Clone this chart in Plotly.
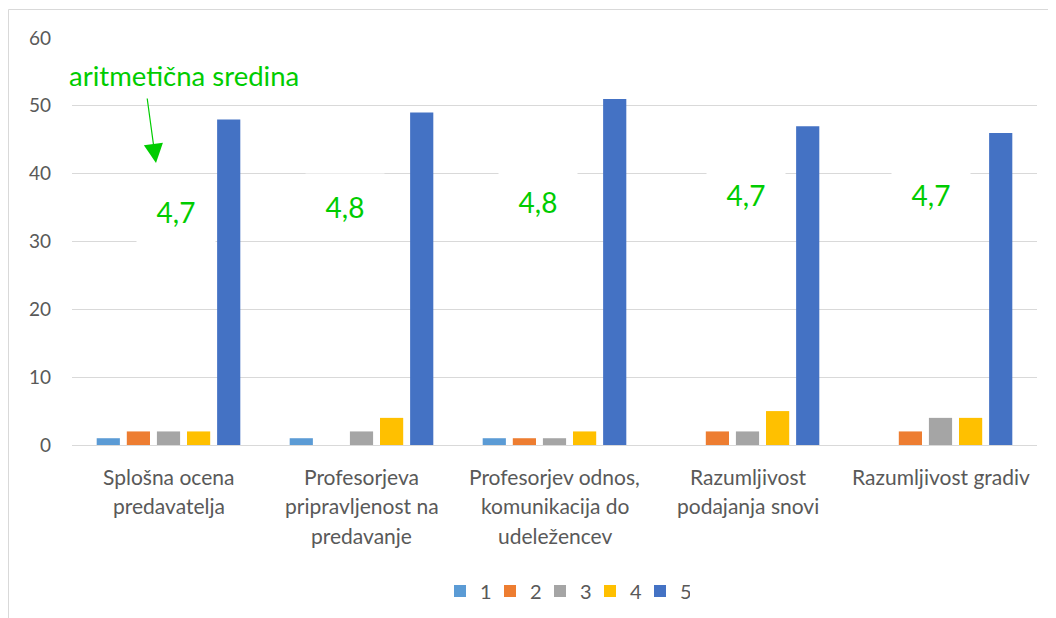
import plotly.graph_objects as go

categories = [
    "Splošna ocena\npredavatelja",
    "Profesorjeva\npripravljenost na\npredavanje",
    "Profesorjev odnos,\nkomunikacija do\nudeležencev",
    "Razumljivost\npodajanja snovi",
    "Razumljivost gradiv",
]
series_names = ["1", "2", "3", "4", "5"]
values_1 = [1, 1, 1, 0, 0]
values_2 = [2, 0, 1, 2, 2]
values_3 = [2, 2, 1, 2, 4]
values_4 = [2, 4, 2, 5, 4]
values_5 = [48, 49, 51, 47, 46]
mean_labels = ["4,7", "4,8", "4,8", "4,7", "4,7"]
y_ticks = [0, 10, 20, 30, 40, 50, 60]

colors = ["#5B9BD5", "#ED7D31", "#A5A5A5", "#FFC000", "#4472C4"]
FONT = "Lato"
GREY = "#595959"
GREEN = "#00CC00"

# layout-only positions for mean labels (pixel shifts / data-height)
mean_xshift = [7, -17, -17, -2, -10]
mean_y = [34.3, 35.1, 35.8, 36.9, 36.9]

# plot area in window pixels (page has an 8px body margin)
PAGE_OFF = 8
PL, PR, PT, PB = 72, 1037, 38, 445
W, H = 1056, 618


def px(x):
    return (x - PL) / (PR - PL)


def py(y):
    return (PB - y) / (PB - PT)


xs = list(range(len(categories)))
all_values = [values_1, values_2, values_3, values_4, values_5]

fig = go.Figure()
for name, vals, col in zip(series_names, all_values, colors):
    fig.add_trace(go.Bar(x=xs, y=vals, name=name, marker=dict(color=col, line=dict(width=0))))

annotations = []
# category labels, one annotation per line
for i, cat in enumerate(categories):
    for j, line in enumerate(cat.split("\n")):
        annotations.append(dict(
            x=i, xref="x", y=0, yref="paper", yanchor="middle", xanchor="center",
            yshift=-31 - j * 29.5, text=line, showarrow=False,
            font=dict(family=FONT, size=21, color=GREY)))

# mean labels with white background boxes
for i, (lab, dx, yy) in enumerate(zip(mean_labels, mean_xshift, mean_y)):
    annotations.append(dict(
        x=i, xref="x", y=yy, yref="y", xshift=dx, text=lab, showarrow=False,
        bgcolor="white", width=76, height=64, valign="middle",
        font=dict(family=FONT, size=28, color=GREEN)))

# "aritmetična sredina" label and arrow
annotations.append(dict(
    x=px(67), xref="paper", y=py(75), yref="paper", xanchor="left", yanchor="middle",
    text="aritmetična sredina", showarrow=False,
    font=dict(family=FONT, size=27.5, color=GREEN)))
annotations.append(dict(
    x=px(156), xref="paper", y=py(163), yref="paper",
    text="", showarrow=True, ax=-9, ay=-66, arrowhead=2, arrowsize=3.2,
    arrowwidth=1.2, arrowcolor=GREEN))

shapes = [
    dict(type="line", xref="paper", yref="paper", x0=px(8.5), x1=px(8.5),
         y0=py(9.5), y1=py(640), line=dict(color="#D9D9D9", width=1)),
    dict(type="line", xref="paper", yref="paper", x0=px(8.5), x1=px(1070),
         y0=py(9.5), y1=py(9.5), line=dict(color="#D9D9D9", width=1)),
]

fig.update_layout(
    width=W, height=H,
    margin=dict(l=PL - PAGE_OFF, r=W - (PR - PAGE_OFF), t=PT - PAGE_OFF, b=H - (PB - PAGE_OFF)),
    paper_bgcolor="white", plot_bgcolor="white",
    barmode="group", bargap=0.22, bargroupgap=0.23,
    font=dict(family=FONT, size=18, color=GREY),
    xaxis=dict(tickmode="array", tickvals=xs, showticklabels=False, showgrid=False,
               showline=True, linecolor="#D9D9D9", linewidth=1, zeroline=False,
               range=[-0.5, len(categories) - 0.5], ticks=""),
    yaxis=dict(range=[0, 60], tickvals=y_ticks, showgrid=True, gridcolor="#D9D9D9",
               gridwidth=1, zeroline=False, showline=False, ticks="",
               tickfont=dict(family=FONT, size=19, color=GREY), ticklabelstandoff=20),
    legend=dict(orientation="h", x=px(565), xanchor="center",
                y=py(591), yanchor="middle",
                font=dict(family=FONT, size=20, color=GREY), itemwidth=30,
                entrywidth=5, entrywidthmode="pixels",
                traceorder="normal"),
    annotations=annotations,
    shapes=shapes,
)

fig.write_html("out.html")
